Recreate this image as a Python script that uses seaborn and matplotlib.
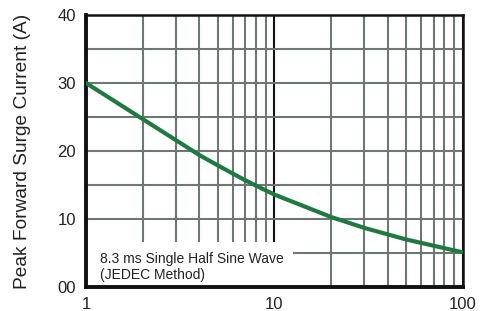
import numpy as np
import pandas as pd
import matplotlib
matplotlib.use("Agg")
import matplotlib.pyplot as plt
import matplotlib.ticker as mticker
import seaborn as sns

# readings
cycles = [1, 2, 3, 4, 5, 6, 7, 8, 10, 20, 30, 50, 100]
current = [30.0, 24.7, 21.6, 19.4, 17.9, 16.7, 15.7, 14.9, 13.6, 10.3, 8.7, 7.0, 5.1]

x_major = [1, 10, 100]
x_labels = ["1", "10", "100"]
y_ticks = [0, 5, 10, 15, 20, 25, 30, 35, 40]
y_labels = ["00", "", "10", "", "20", "", "30", "", "40"]

GRID = "#6f7774"
CURVE = "#1e7a40"
TEXT = "#222222"

sns.set_style("white")
plt.rcParams["font.family"] = ["Liberation Sans", "DejaVu Sans"]

df = pd.DataFrame({"cycles": cycles, "current": current})

fig = plt.figure(figsize=(4.8, 3.11), dpi=100)
ax = fig.add_axes([0.179, 0.077, 0.785, 0.875])

sns.lineplot(data=df, x="cycles", y="current", ax=ax, color=CURVE, lw=3, zorder=3)

ax.set_xscale("log")
ax.set_xlim(1, 100)
ax.set_ylim(0, 40)
ax.xaxis.set_major_locator(mticker.FixedLocator(x_major))
ax.xaxis.set_major_formatter(mticker.FixedFormatter(x_labels))
ax.xaxis.set_minor_locator(mticker.LogLocator(base=10, subs=np.arange(2, 10)))
ax.xaxis.set_minor_formatter(mticker.NullFormatter())
ax.set_yticks(y_ticks)
ax.set_yticklabels(y_labels)

ax.set_axisbelow(True)
ax.grid(which="minor", axis="x", color=GRID, lw=1.5)
ax.grid(which="major", axis="x", color="#111111", lw=1.5)
ax.grid(which="major", axis="y", color=GRID, lw=1.5)

ax.tick_params(which="both", length=0, labelsize=12, colors=TEXT, pad=7)
ax.set_xlabel("")
ax.set_ylabel("Peak Forward Surge Current (A)", fontsize=13.8, color=TEXT, labelpad=19)

for side, lw in [("left", 2.8), ("bottom", 2.8), ("top", 1.8), ("right", 1.8)]:
    ax.spines[side].set_visible(True)
    ax.spines[side].set_color("#111111")
    ax.spines[side].set_linewidth(lw)

# white panel behind the note
ax.add_patch(plt.Rectangle((0, 0), 0.549, 0.165, transform=ax.transAxes,
                           facecolor="white", edgecolor="none", zorder=1.5))
ax.text(0.037, 0.128, "8.3 ms Single Half Sine Wave\n(JEDEC Method)",
        transform=ax.transAxes, fontsize=10, color=TEXT, va="top", ha="left",
        linespacing=1.2, zorder=4)

fig.savefig("out.png", dpi=100, facecolor="white")
